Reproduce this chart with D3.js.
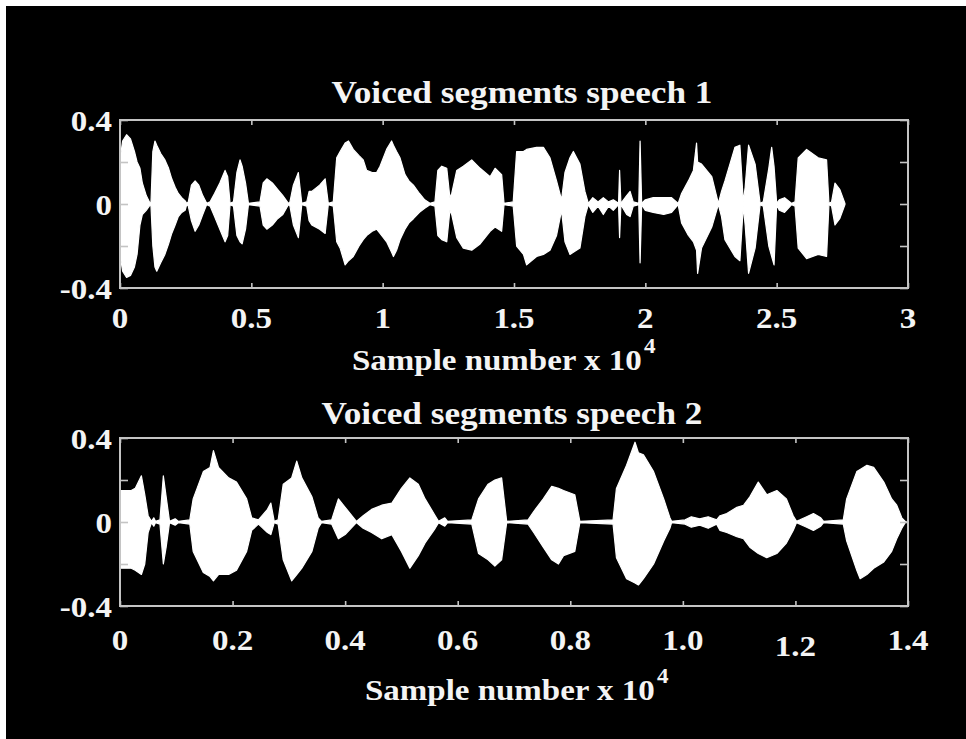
<!DOCTYPE html>
<html>
<head>
<meta charset="utf-8">
<script src="https://cdn.jsdelivr.net/npm/d3@7"></script>
<style>
  html, body { margin: 0; padding: 0; background: #fff; }
  svg { display: block; }
</style>
</head>
<body>
<svg id="chart" width="966" height="739"></svg>
<script>
// ---------------- DATA ----------------
// Speech 1 envelope (x in units of 10^4 samples, amplitude)
const speech1X = [0.000,0.010,0.025,0.040,0.055,0.065,0.076,0.085,0.100,0.114,
0.118,0.125,0.133,0.140,0.155,0.171,0.185,0.197,0.210,0.222,0.235,0.248,0.254,
0.260,0.272,0.286,0.300,0.315,0.330,
0.343,0.360,0.380,0.400,0.410,0.419,
0.432,0.445,0.457,0.465,0.478,0.489,
0.533,0.545,0.559,0.580,0.600,0.620,0.641,
0.647,0.660,0.679,0.692,
0.711,0.720,0.730,0.760,0.781,0.793,
0.812,0.825,0.838,0.857,0.870,0.888,0.910,0.926,0.939,0.960,0.977,0.990,1.015,1.034,1.041,1.053,1.066,1.085,1.100,1.117,1.140,1.160,1.180,
1.199,1.210,1.225,1.244,1.256,1.263,1.282,1.307,1.339,1.371,1.409,1.428,1.453,1.462,
1.497,1.510,1.536,1.548,1.586,1.612,1.637,1.662,1.681,1.694,1.713,1.726,1.751,1.770,1.783,
1.800,1.820,1.840,1.860,1.878,1.898,1.902,1.907,1.929,1.942,1.954,1.975,1.980,1.986,
2.000,2.030,2.070,2.100,2.125,
2.138,2.164,2.183,2.195,2.199,2.214,2.253,2.278,
2.290,2.303,2.341,2.360,2.373,2.380,2.393,2.418,2.437,
2.449,2.470,2.481,2.490,2.500,2.510,2.530,2.557,
2.570,2.582,2.614,2.658,2.690,2.699,2.709,2.722,2.740,2.760];
const speech1Upper = [0.21,0.30,0.33,0.31,0.25,0.20,0.17,0.10,0.04,0.005,
0.01,0.25,0.30,0.28,0.24,0.21,0.17,0.12,0.08,0.05,0.03,0.015,0.003,
0.01,0.09,0.11,0.09,0.04,0.003,
0.01,0.05,0.10,0.16,0.13,0.003,
0.01,0.15,0.21,0.18,0.10,0.003,
0.01,0.10,0.12,0.10,0.07,0.04,0.003,
0.01,0.09,0.15,0.003,
0.01,0.06,0.06,0.09,0.12,0.003,
0.01,0.22,0.25,0.29,0.30,0.26,0.23,0.21,0.16,0.15,0.15,0.18,0.26,0.30,0.28,0.25,0.22,0.14,0.11,0.09,0.05,0.02,0.003,
0.01,0.16,0.18,0.17,0.03,0.05,0.16,0.18,0.21,0.17,0.13,0.17,0.14,0.003,
0.01,0.25,0.25,0.26,0.27,0.27,0.22,0.11,0.02,0.15,0.22,0.25,0.19,0.06,0.003,
0.03,0.01,0.03,0.01,0.02,0.003,0.16,0.003,0.04,0.06,0.01,0.003,0.30,0.003,
0.02,0.03,0.03,0.03,0.003,
0.05,0.11,0.16,0.29,0.20,0.19,0.13,0.003,
0.06,0.11,0.27,0.28,0.01,0.08,0.28,0.19,0.003,
0.01,0.17,0.27,0.18,0.003,0.02,0.03,0.003,
0.01,0.22,0.26,0.22,0.21,0.003,0.01,0.10,0.07,0.003];
const speech1Lower = [-0.24,-0.32,-0.35,-0.34,-0.30,-0.24,-0.10,-0.05,-0.03,-0.005,
-0.01,-0.20,-0.30,-0.32,-0.28,-0.24,-0.19,-0.14,-0.10,-0.06,-0.04,-0.03,-0.003,
-0.01,-0.08,-0.13,-0.10,-0.05,-0.003,
-0.01,-0.06,-0.12,-0.18,-0.15,-0.003,
-0.01,-0.15,-0.18,-0.19,-0.12,-0.003,
-0.01,-0.10,-0.12,-0.10,-0.07,-0.05,-0.003,
-0.01,-0.10,-0.16,-0.003,
-0.01,-0.08,-0.10,-0.12,-0.14,-0.003,
-0.01,-0.18,-0.21,-0.29,-0.27,-0.25,-0.20,-0.17,-0.15,-0.13,-0.12,-0.14,-0.18,-0.23,-0.25,-0.22,-0.17,-0.12,-0.09,-0.07,-0.04,-0.02,-0.003,
-0.01,-0.15,-0.17,-0.18,-0.03,-0.05,-0.16,-0.21,-0.22,-0.19,-0.13,-0.11,-0.13,-0.003,
-0.01,-0.20,-0.24,-0.29,-0.25,-0.24,-0.22,-0.15,-0.03,-0.18,-0.24,-0.23,-0.21,-0.06,-0.003,
-0.04,-0.01,-0.05,-0.01,-0.03,-0.003,-0.16,-0.003,-0.05,-0.06,-0.01,-0.003,-0.28,-0.003,
-0.03,-0.04,-0.05,-0.04,-0.003,
-0.09,-0.15,-0.18,-0.22,-0.33,-0.21,-0.11,-0.003,
-0.06,-0.17,-0.25,-0.27,-0.01,-0.10,-0.33,-0.21,-0.003,
-0.01,-0.20,-0.25,-0.29,-0.003,-0.03,-0.04,-0.003,
-0.01,-0.21,-0.26,-0.24,-0.25,-0.003,-0.01,-0.10,-0.07,-0.003];

// Speech 2 envelope
const speech2X = [0.000,0.020,0.027,0.038,0.044,0.050,0.056,0.060,0.063,
0.071,0.077,0.082,0.088,0.098,0.104,
0.124,0.130,0.148,0.160,0.166,0.175,0.193,0.207,0.225,0.234,
0.246,0.262,0.268,0.274,
0.281,0.290,0.305,0.314,0.323,0.341,0.352,0.358,
0.376,0.388,0.400,0.420,0.432,0.447,0.465,0.483,0.500,0.515,0.530,0.542,0.560,0.566,0.577,0.582,
0.625,0.637,0.654,0.666,0.678,0.687,
0.725,0.735,0.752,0.767,0.779,0.788,0.808,0.817,
0.876,0.882,0.900,0.915,0.921,0.930,0.948,0.966,0.977,0.980,
1.004,1.015,1.030,1.045,1.060,1.066,1.078,1.096,1.108,1.119,1.134,1.149,1.167,1.184,1.196,1.202,
1.208,1.220,1.232,1.245,1.250,
1.285,1.291,1.309,1.315,1.327,1.339,1.357,1.371,1.380,1.389,1.395];
const speech2Upper = [0.15,0.15,0.16,0.22,0.13,0.03,0.003,0.02,0.003,
0.01,0.22,0.12,0.003,0.015,0.003,
0.01,0.11,0.24,0.26,0.34,0.26,0.21,0.19,0.11,0.02,
0.01,0.06,0.09,0.003,
0.01,0.18,0.21,0.29,0.21,0.12,0.02,0.003,
0.01,0.11,0.07,0.003,0.03,0.06,0.08,0.09,0.16,0.21,0.18,0.11,0.03,0.003,0.02,0.003,
0.01,0.11,0.18,0.20,0.21,0.003,
0.01,0.05,0.11,0.17,0.16,0.15,0.13,0.003,
0.01,0.16,0.27,0.38,0.33,0.32,0.24,0.11,0.02,0.003,
0.01,0.025,0.015,0.025,0.01,0.03,0.04,0.07,0.08,0.12,0.19,0.13,0.15,0.11,0.03,0.003,
0.01,0.025,0.04,0.02,0.003,
0.01,0.11,0.24,0.25,0.27,0.26,0.19,0.11,0.08,0.02,0.003];
const speech2Lower = [-0.22,-0.22,-0.23,-0.25,-0.20,-0.05,-0.003,-0.02,-0.003,
-0.01,-0.20,-0.12,-0.003,-0.015,-0.003,
-0.01,-0.14,-0.24,-0.26,-0.28,-0.25,-0.25,-0.23,-0.14,-0.04,
-0.01,-0.05,-0.06,-0.003,
-0.01,-0.18,-0.28,-0.25,-0.22,-0.14,-0.03,-0.003,
-0.01,-0.08,-0.06,-0.003,-0.03,-0.05,-0.08,-0.06,-0.14,-0.22,-0.16,-0.10,-0.03,-0.003,-0.02,-0.003,
-0.01,-0.15,-0.18,-0.21,-0.18,-0.003,
-0.01,-0.05,-0.12,-0.18,-0.20,-0.16,-0.14,-0.003,
-0.01,-0.17,-0.27,-0.29,-0.30,-0.27,-0.20,-0.09,-0.03,-0.003,
-0.01,-0.025,-0.015,-0.03,-0.01,-0.04,-0.05,-0.07,-0.08,-0.12,-0.15,-0.17,-0.15,-0.10,-0.04,-0.003,
-0.01,-0.025,-0.04,-0.02,-0.003,
-0.01,-0.09,-0.23,-0.27,-0.25,-0.22,-0.19,-0.14,-0.08,-0.03,-0.003];

// Axes / labels
const titles = ["Voiced segments speech 1", "Voiced segments speech 2"];
const xLabelText = "Sample number x 10";
const xLabelExp = "4";
const xTicks1 = [0, 0.5, 1, 1.5, 2, 2.5, 3];
const xTickLabels1 = ["0", "0.5", "1", "1.5", "2", "2.5", "3"];
const xTicks2 = [0, 0.2, 0.4, 0.6, 0.8, 1.0, 1.2, 1.4];
const xTickLabels2 = ["0", "0.2", "0.4", "0.6", "0.8", "1.0", "1.2", "1.4"];
const yTicks = [-0.4, -0.2, 0, 0.2, 0.4];
const yLabelTicks = [0.4, 0, -0.4];
const yTickLabels = ["0.4", "0", "-0.4"];

// ---------------- DRAW ----------------
const svg = d3.select("#chart");
svg.append("rect").attr("x", 0).attr("y", 0).attr("width", 966).attr("height", 739).attr("fill", "#fff");
svg.append("rect").attr("x", 6).attr("y", 6).attr("width", 960).attr("height", 733).attr("fill", "#000");

const FONT = "'Liberation Serif', 'Times New Roman', serif";
const TXT = "#f4f4f4";
const FRAME = "#c4c4c4";
const SX = 1.1; // glyphs in the source look horizontally stretched

function stretched(parent, px, py, size) {
  return parent.append("text")
    .attr("transform", `translate(${px},${py}) scale(${SX},1)`)
    .attr("x", 0).attr("y", 0)
    .attr("font-family", FONT).attr("font-weight", "bold").attr("font-size", size)
    .attr("fill", TXT);
}

function panel(cfg) {
  const x = d3.scaleLinear().domain(cfg.xDomain).range([120, 908]);
  const y = d3.scaleLinear().domain([-0.4, 0.4]).range([cfg.bottom, cfg.top]);
  const g = svg.append("g");

  const data = cfg.xs.map((v, i) => ({ x: v, up: cfg.up[i], lo: cfg.lo[i] }));

  // zero line
  g.append("path")
    .datum([cfg.xs[0], cfg.zeroEnd])
    .attr("d", d3.line().x(d => x(d)).y(() => y(0)))
    .attr("stroke", "#eeeeee").attr("stroke-width", 1.6).attr("fill", "none");

  // waveform envelope
  g.append("path")
    .datum(data)
    .attr("d", d3.area().x(d => x(d.x)).y0(d => y(d.lo)).y1(d => y(d.up)))
    .attr("fill", "#ffffff").attr("stroke", "#ffffff").attr("stroke-width", 1.2)
    .attr("stroke-linejoin", "round");

  // frame
  g.append("rect")
    .attr("x", x.range()[0]).attr("y", cfg.top)
    .attr("width", x.range()[1] - x.range()[0]).attr("height", cfg.bottom - cfg.top)
    .attr("fill", "none").attr("stroke", FRAME).attr("stroke-width", 2);

  // ticks (inward on all four sides)
  const xb = d3.axisBottom(x).tickValues(cfg.xTicks).tickSize(-5).tickFormat("");
  const xt = d3.axisTop(x).tickValues(cfg.xTicks).tickSize(-5).tickFormat("");
  const yl = d3.axisLeft(y).tickValues(yTicks).tickSize(-8).tickFormat("");
  const yr = d3.axisRight(y).tickValues(yTicks).tickSize(-8).tickFormat("");
  [[xb, `translate(0,${cfg.bottom})`], [xt, `translate(0,${cfg.top})`],
   [yl, `translate(120,0)`], [yr, `translate(908,0)`]].forEach(([ax, tr]) => {
    const a = g.append("g").attr("transform", tr).call(ax);
    a.select(".domain").remove();
    a.selectAll("line").attr("stroke", FRAME).attr("stroke-width", 1.6);
  });

  // x tick labels
  cfg.xTicks.forEach((v, i) => {
    const lab = cfg.xTickLabels[i];
    const extra = (lab === "1.2" && cfg.xDomain[1] < 2) ? 6 : 0;
    stretched(g, x(v), cfg.bottom + cfg.xLabDy + extra, 30)
      .attr("text-anchor", "middle").text(lab);
  });

  // y tick labels
  yLabelTicks.forEach((v, i) => {
    stretched(g, 112, y(v) + 11, 30).attr("text-anchor", "end").text(yTickLabels[i]);
  });

  // title
  stretched(svg, cfg.titleX, cfg.titleY, 32).attr("text-anchor", "middle").text(cfg.title);

  // x label with superscript
  const t = stretched(svg, cfg.xlabX, cfg.xlabY, 30);
  t.append("tspan").text(xLabelText);
  t.append("tspan").attr("dy", -17).attr("dx", 2).attr("font-size", 21).text(xLabelExp);
}

panel({
  xDomain: [0, 3], top: 120, bottom: 288,
  xs: speech1X, up: speech1Upper, lo: speech1Lower, zeroEnd: 2.76,
  xTicks: xTicks1, xTickLabels: xTickLabels1, xLabDy: 40,
  title: titles[0], titleX: 522, titleY: 103,
  xlabX: 352, xlabY: 370
});
panel({
  xDomain: [0, 1.4], top: 438, bottom: 606,
  xs: speech2X, up: speech2Upper, lo: speech2Lower, zeroEnd: 1.4,
  xTicks: xTicks2, xTickLabels: xTickLabels2, xLabDy: 44,
  title: titles[1], titleX: 512, titleY: 424,
  xlabX: 365, xlabY: 700
});
</script>
</body>
</html>
